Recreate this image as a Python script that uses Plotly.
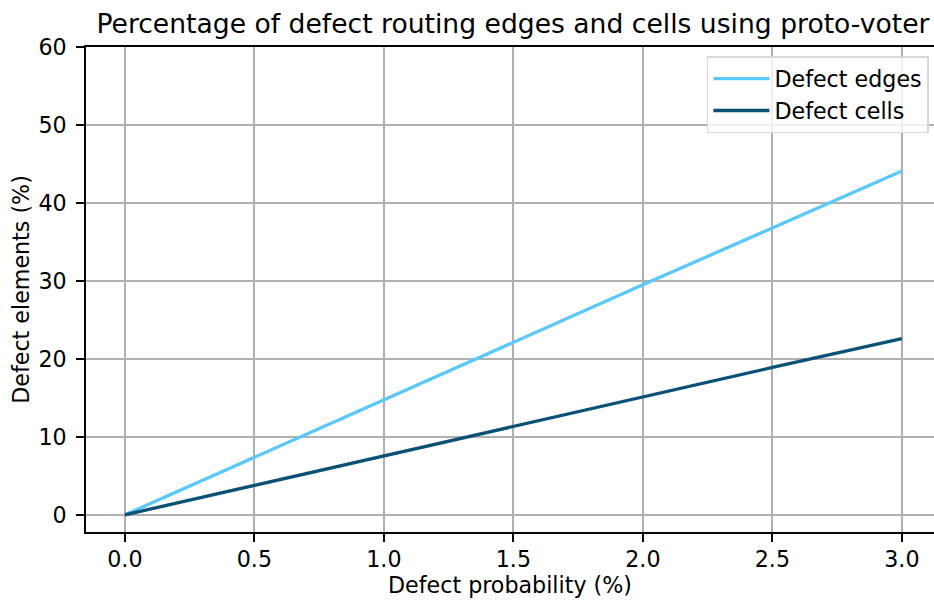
import plotly.graph_objects as go

defect_prob = [0.0, 0.5, 1.0, 1.5, 2.0, 2.5, 3.0]
defect_edges = [0.0, 7.4, 14.8, 22.2, 29.5, 36.8, 44.1]
defect_cells = [0.0, 3.8, 7.5, 11.3, 15.1, 18.9, 22.6]
x_ticks = [0.0, 0.5, 1.0, 1.5, 2.0, 2.5, 3.0]
y_ticks = [0, 10, 20, 30, 40, 50, 60]

FONT = "DejaVu Sans"
FS = 22.2
fig = go.Figure()
fig.add_trace(go.Scatter(x=defect_prob, y=defect_edges, mode="lines", name="Defect edges",
                         line=dict(color="#5AC8FA", width=3.3)))
fig.add_trace(go.Scatter(x=defect_prob, y=defect_cells, mode="lines", name="Defect cells",
                         line=dict(color="#0B5075", width=3.3)))

axis_common = dict(showline=True, linecolor="black", linewidth=1.7, ticks="outside",
                   ticklen=8, tickwidth=1.7, tickcolor="black", showgrid=True,
                   gridcolor="#b0b0b0", gridwidth=1.7, zeroline=False,
                   tickfont=dict(family=FONT, size=FS, color="black"))

fig.update_layout(
    width=934, height=600,
    margin=dict(l=86, r=0, t=47, b=68),
    paper_bgcolor="white", plot_bgcolor="white",
    font=dict(family=FONT, color="black"),
    title=dict(text="Percentage of defect routing edges and cells using proto-voter",
               font=dict(family=FONT, size=26.6, color="black"),
               x=0.5035, xref="paper", xanchor="center",
               y=1 - 33 / 600, yref="container", yanchor="bottom"),
    xaxis=dict(range=[-0.15, 3.124], tickvals=x_ticks,
               ticktext=[f"{v:.1f}" for v in x_ticks], mirror=True,
               ticklabelstandoff=-1,
               title=dict(text="Defect probability (%)", font=dict(family=FONT, size=FS),
                          standoff=3),
               **axis_common),
    yaxis=dict(range=[-2.2, 60], tickvals=y_ticks, mirror=False,
               ticklabelstandoff=5,
               title=dict(text="Defect elements (%)", font=dict(family=FONT, size=FS),
                          standoff=3),
               **axis_common),
    legend=dict(x=0.994, y=0.981, xanchor="right", yanchor="top",
                bgcolor="rgba(255,255,255,0.8)", bordercolor="#d8d8d8", borderwidth=1.5,
                font=dict(family=FONT, size=FS, color="black"),
                itemwidth=56, tracegroupgap=0),
    showlegend=True,
)

fig.write_html("out.html", config={"displayModeBar": False},
               post_script="document.body.style.margin='0';document.body.style.padding='0';")
